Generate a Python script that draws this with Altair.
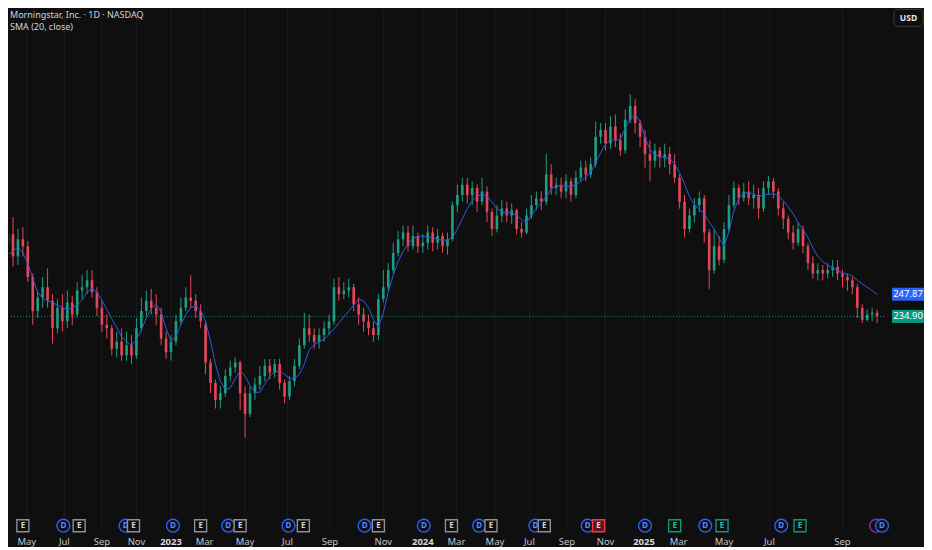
import altair as alt
import numpy as np
import pandas as pd

# ---- candles (one per ~week) ----
opens = [278,283,270,280,276,258,238,246,252,244, 228,240,232,243,236,250,252,256,249,240,
         230,228,216,220,212,218,212,228,238,244, 240,236,222,214,220,232,240,246,244,238,
         230,208,196,186,190,200,205,208,190,178, 190,195,200,206,202,207,196,188,197,206,
         218,228,224,220,224,228,232,252,248,250, 252,242,236,232,228,224,245,252,262,272,
         280,284,276,282,276,278,284,278,282,276, 280,300,306,312,306,310,302,308,296,286,
         294,298,294,297,286,284,294,300,304,302, 318,310,312,308,314,306,316,322,318,324,
         340,344,336,346,338,332,350,358,348,340, 330,326,332,328,330,324,316,302,286,294,
         300,304,284,262,276,268,286,300,310,304, 308,304,306,298,310,314,308,298,292,284,
         278,286,276,266,260,262,260,262,264,260, 258,256,252,240,233,236,237]
closes = [283,270,280,276,258,238,246,252,244,228, 240,232,243,236,250,252,256,249,240,230,
          228,216,220,212,218,212,228,238,244,240, 236,222,214,220,232,240,246,244,238,232,
          208,196,186,190,200,205,208,190,178,190, 195,200,206,202,207,196,188,197,206,218,
          228,224,220,224,228,232,252,248,250,252, 242,236,232,228,224,245,252,262,272,280,
          284,276,282,276,278,284,278,282,276,280, 300,306,312,306,310,302,308,296,286,294,
          298,294,297,286,284,294,300,304,302,318, 310,312,308,314,306,316,322,318,324,340,
          344,336,346,338,332,350,358,348,340,330, 326,332,328,330,324,316,302,286,294,300,
          304,284,262,276,268,286,300,310,304,308, 304,306,298,310,314,308,298,292,284,278,
          286,276,266,260,262,260,262,264,260,258, 256,252,240,233,236,237,234.9]
highs = [290,293,286,287,279,260,250,258,263,248, 245,248,250,247,255,259,262,262,252,244,
         236,230,226,228,226,224,234,246,250,251, 248,240,226,224,236,246,252,259,248,242,
         232,210,198,194,204,209,211,209,194,194, 199,206,210,210,210,210,198,200,210,222,
         237,236,228,228,232,236,257,258,255,257, 254,246,240,236,232,248,262,266,278,285,
         288,288,288,284,283,288,287,286,284,284, 302,312,316,316,314,312,316,311,298,300,
         303,302,301,298,290,298,306,308,308,330, 324,316,316,318,316,320,326,326,328,349,
         348,348,352,353,342,356,365,362,350,344, 338,336,334,336,334,330,318,306,298,304,
         308,306,286,286,282,290,306,314,312,313, 314,312,310,314,317,316,310,302,294,288,
         290,288,278,270,266,265,266,268,268,262, 260,258,254,242,239,240,239]
lows = [272,264,265,270,255,230,234,240,240,219, 225,226,228,230,234,245,248,246,235,226,
        222,212,211,209,209,207,210,226,235,236, 230,218,210,209,218,230,238,240,234,228,
        201,190,181,181,188,197,202,180,164,176, 186,192,197,198,199,192,184,186,194,204,
        216,220,216,216,220,224,230,244,245,246, 238,230,226,224,220,221,243,250,260,270,
        276,273,274,272,272,274,273,274,272,271, 279,296,302,301,300,296,300,290,282,284,
        290,290,289,283,281,283,292,297,297,300, 306,306,304,304,302,304,314,314,316,322,
        336,332,333,334,329,330,348,342,334,322, 314,322,322,322,318,313,298,281,284,290,
        296,278,251,260,265,266,284,298,300,302, 300,298,292,296,306,304,294,286,280,274,
        276,272,262,257,256,256,257,258,256,252, 250,248,234,231,232,232,231]
# SMA (20, close)
sma = [271,273,275.5,272,266,257,249,245.5,244,243, 241.5,240,239,240,241.5,244.5,249,251.5,249,244.5,
       239,233.5,228.5,223,220,218,221.5,227,234,239.5, 242,237.5,228,220.5,223.5,230,236,240,241,238.5,
       232,220.5,207,197,192,193,198.5,203,200,194.5, 190.5,190.5,195.5,200,202.5,203,201,198.5,198.5,201,
       207,215.5,218.5,220,221.5,224.5,227.5,231,234.5,238, 241.5,245,244,240,233,228.5,237,249,259,267,
       273,277.5,280.5,281.5,282,281.5,281,280,279.5,279.5, 281,286,292,298,302.5,305,306.5,305,302,298,
       296,295.5,295.5,294,291.5,290,294,298,301.5,305, 309.5,311,311.5,311,311,312,314,316.5,319,325,
       330.5,335.5,338.5,338,338.5,345,350.5,353,349,339.5, 332.5,329.5,328.5,327.5,327.5,324,319,312.5,305,300.5,
       297.5,295,290,286,281,276,284.5,296.5,304,307, 307.5,306.5,305,306,306.5,306.5,305.5,302.5,299,295,
       290,285.5,281,275,270,267,265,263.3,261.5,260.5, 259.5,258.6,256,254,252,250,247.87]

# ---- time axis: month labels and the bar where each month starts ----
month_labels = ["May","Jul","Sep","Nov","2023","Mar","May","Jul","Sep","Nov","2024",
                "Mar","May","Jul","Sep","Nov","2025","Mar","May","Jul","Sep"]
month_bar = [3.8,11.4,19.0,26.0,33.0,39.8,48.0,56.6,65.2,76.0,84.0,
             90.8,98.6,105.6,113.2,121.0,128.8,135.8,145.0,154.2,169.0]

price_ticks = [120,140,160,180,200,220,240,260,280,300,320,340,360,380,400]

# ---- events (D = dividend, E = earnings) ----
event_kind = ["E","D","E","D","E","D","E","D","E","D","E","D","E","D","E","D","E","D","E",
              "D","E-","D","E+","D","E+","D","E+","S","D"]
event_bar = [3.0,11.2,14.4,23.8,25.4,33.4,39.0,44.6,47.0,56.8,59.8,72.2,75.0,84.2,89.8,95.4,97.8,
             106.8,108.6,117.4,119.6,129.0,135.0,141.2,144.6,156.6,160.4,175.8,177.0]

title_text = "Morningstar, Inc. · 1D · NASDAQ"
sma_text = "SMA (20, close)"

BG = "#0f0f0f"
GRID = "#1c1c1c"
AXIS_TXT = "#c2c5cc"
UP = "#1f9e83"
DOWN = "#e5475a"
SMA_C = "#2d5be3"
TAG_UP = "#089981"
TAG_SMA = "#2962ff"
FONT = "Noto Sans"
W, H = 876, 522

candles = pd.DataFrame({"i": np.arange(len(closes)), "open": opens, "close": closes,
                        "high": highs, "low": lows, "sma": sma})
candles["dir"] = np.where(candles["close"] >= candles["open"], "up", "down")

xs = alt.Scale(domain=[1.2, 176.4], nice=False, zero=False)
ys = alt.Scale(domain=[109.5, 414.6], nice=False, zero=False)
X = alt.X("i:Q", scale=xs, axis=None)
dir_color = alt.Color("dir:N", scale=alt.Scale(domain=["up", "down"], range=[UP, DOWN]), legend=None)

months = pd.DataFrame({"label": month_labels, "bar": month_bar})
months["kind"] = np.where(months["label"].str.isdigit(), "year", "month")

vgrid = alt.Chart(months).mark_rule(color=GRID, strokeWidth=1).encode(
    x=alt.X("bar:Q", scale=xs, axis=None))

wicks = alt.Chart(candles).mark_rule(strokeWidth=1, clip=True).encode(
    x=X,
    y=alt.Y("low:Q", scale=ys, axis=alt.Axis(
        orient="right", values=price_ticks, format=".2f", grid=True, gridColor=GRID,
        gridWidth=1, ticks=False, domain=False, labelPadding=12, labelColor=AXIS_TXT,
        labelFontSize=9.5, labelFont=FONT, title=None, labelAlign="left")),
    y2="high:Q",
    color=dir_color)

bodies = alt.Chart(candles).mark_bar(size=2.6, clip=True).encode(
    x=X, y=alt.Y("open:Q", scale=ys, axis=None), y2="close:Q", color=dir_color)

sma_line = alt.Chart(candles).mark_line(color=SMA_C, strokeWidth=1, clip=True).encode(
    x=X, y=alt.Y("sma:Q", scale=ys, axis=None))

last = pd.DataFrame({"p": [closes[-1]], "t": [f"{closes[-1]:.2f}"]})
last_sma = pd.DataFrame({"p": [sma[-1]], "t": [f"{sma[-1]:.2f}"]})

last_line = alt.Chart(last).mark_rule(color=TAG_UP, strokeDash=[1, 2], strokeWidth=1).encode(
    y=alt.Y("p:Q", scale=ys, axis=None))

def tag(df, col):
    box = alt.Chart(df).mark_tick(orient="horizontal", size=32, thickness=13,
                                  color=col, opacity=1).encode(
        y=alt.Y("p:Q", scale=ys, axis=None), x=alt.value(900))
    txt = alt.Chart(df).mark_text(color="#ffffff", fontSize=9.5, font=FONT).encode(
        y=alt.Y("p:Q", scale=ys, axis=None), x=alt.value(900), text="t:N")
    return [box, txt]

xlab_m = alt.Chart(months).transform_filter(alt.datum.kind == "month").mark_text(
    fontSize=9.5, font=FONT, color=AXIS_TXT, baseline="middle").encode(
    x=alt.X("bar:Q", scale=xs, axis=None), y=alt.value(533), text="label:N")
xlab_y = alt.Chart(months).transform_filter(alt.datum.kind == "year").mark_text(
    fontSize=9.5, font=FONT, color="#d8dade", fontWeight="bold", baseline="middle").encode(
    x=alt.X("bar:Q", scale=xs, axis=None), y=alt.value(533), text="label:N")

ev = pd.DataFrame({"kind": event_kind, "bar": event_bar})
stroke_map = {"D": "#2962ff", "E": "#8d8f94", "E-": "#f23645", "E+": "#089981", "S": "#9c27b0"}
text_map = {"D": "#5b86ff", "E": "#d4d6da", "E-": "#ffd0d4", "E+": "#22c39c", "S": "#9c27b0"}
fill_map = {"D": BG, "E": BG, "E-": "#5a1820", "E+": BG, "S": BG}
letter_map = {"D": "D", "E": "E", "E-": "E", "E+": "E", "S": ""}
ev["sc"] = ev["kind"].map(stroke_map)
ev["tc"] = ev["kind"].map(text_map)
ev["fc"] = ev["kind"].map(fill_map)
ev["letter"] = ev["kind"].map(letter_map)
ev["group"] = np.where(ev["kind"].isin(["D", "S"]), "circle", "square")

EVY = 517
def ev_layers(group, shape, size):
    pts = alt.Chart(ev).transform_filter(alt.datum.group == group).mark_point(
        shape=shape, size=size, filled=True, strokeWidth=1.4, opacity=1).encode(
        x=alt.X("bar:Q", scale=xs, axis=None), y=alt.value(EVY),
        stroke=alt.Stroke("sc:N", scale=None), fill=alt.Fill("fc:N", scale=None))
    txt = alt.Chart(ev).transform_filter(alt.datum.group == group).mark_text(
        fontSize=8, font=FONT, fontWeight="bold", baseline="middle").encode(
        x=alt.X("bar:Q", scale=xs, axis=None), y=alt.value(EVY + 0.5),
        text="letter:N", color=alt.Color("tc:N", scale=None))
    return [pts, txt]

title = alt.Chart(pd.DataFrame({"t": [title_text]})).mark_text(
    align="left", baseline="top", fontSize=9, font=FONT, color="#d1d4dc").encode(
    x=alt.value(1), y=alt.value(2), text="t:N")
subtitle = alt.Chart(pd.DataFrame({"t": [sma_text]})).mark_text(
    align="left", baseline="top", fontSize=9, font=FONT, color="#d1d4dc").encode(
    x=alt.value(1), y=alt.value(14), text="t:N")

usd_box = alt.Chart(pd.DataFrame({"t": ["USD"]})).mark_rect(
    fill=BG, stroke="#3a3a3a", strokeWidth=1, cornerRadius=3).encode(
    x=alt.value(886), x2=alt.value(915), y=alt.value(0), y2=alt.value(17))
usd_txt = alt.Chart(pd.DataFrame({"t": ["USD"]})).mark_text(
    fontSize=8.5, font=FONT, fontWeight="bold", color="#e6e6e6", baseline="middle").encode(
    x=alt.value(900.5), y=alt.value(8.5), text="t:N")

layers = [vgrid, wicks, bodies, sma_line, last_line] + tag(last_sma, TAG_SMA) + tag(last, TAG_UP) \
    + [xlab_m, xlab_y] + ev_layers("circle", "circle", 165) + ev_layers("square", "square", 145) \
    + [title, subtitle, usd_box, usd_txt]

chart = alt.layer(*layers).resolve_scale(color="independent").properties(
    width=W, height=H, padding=0, background=BG
).configure_view(stroke=None)

chart.save("out.html", embed_options={"renderer": "svg", "actions": False})
